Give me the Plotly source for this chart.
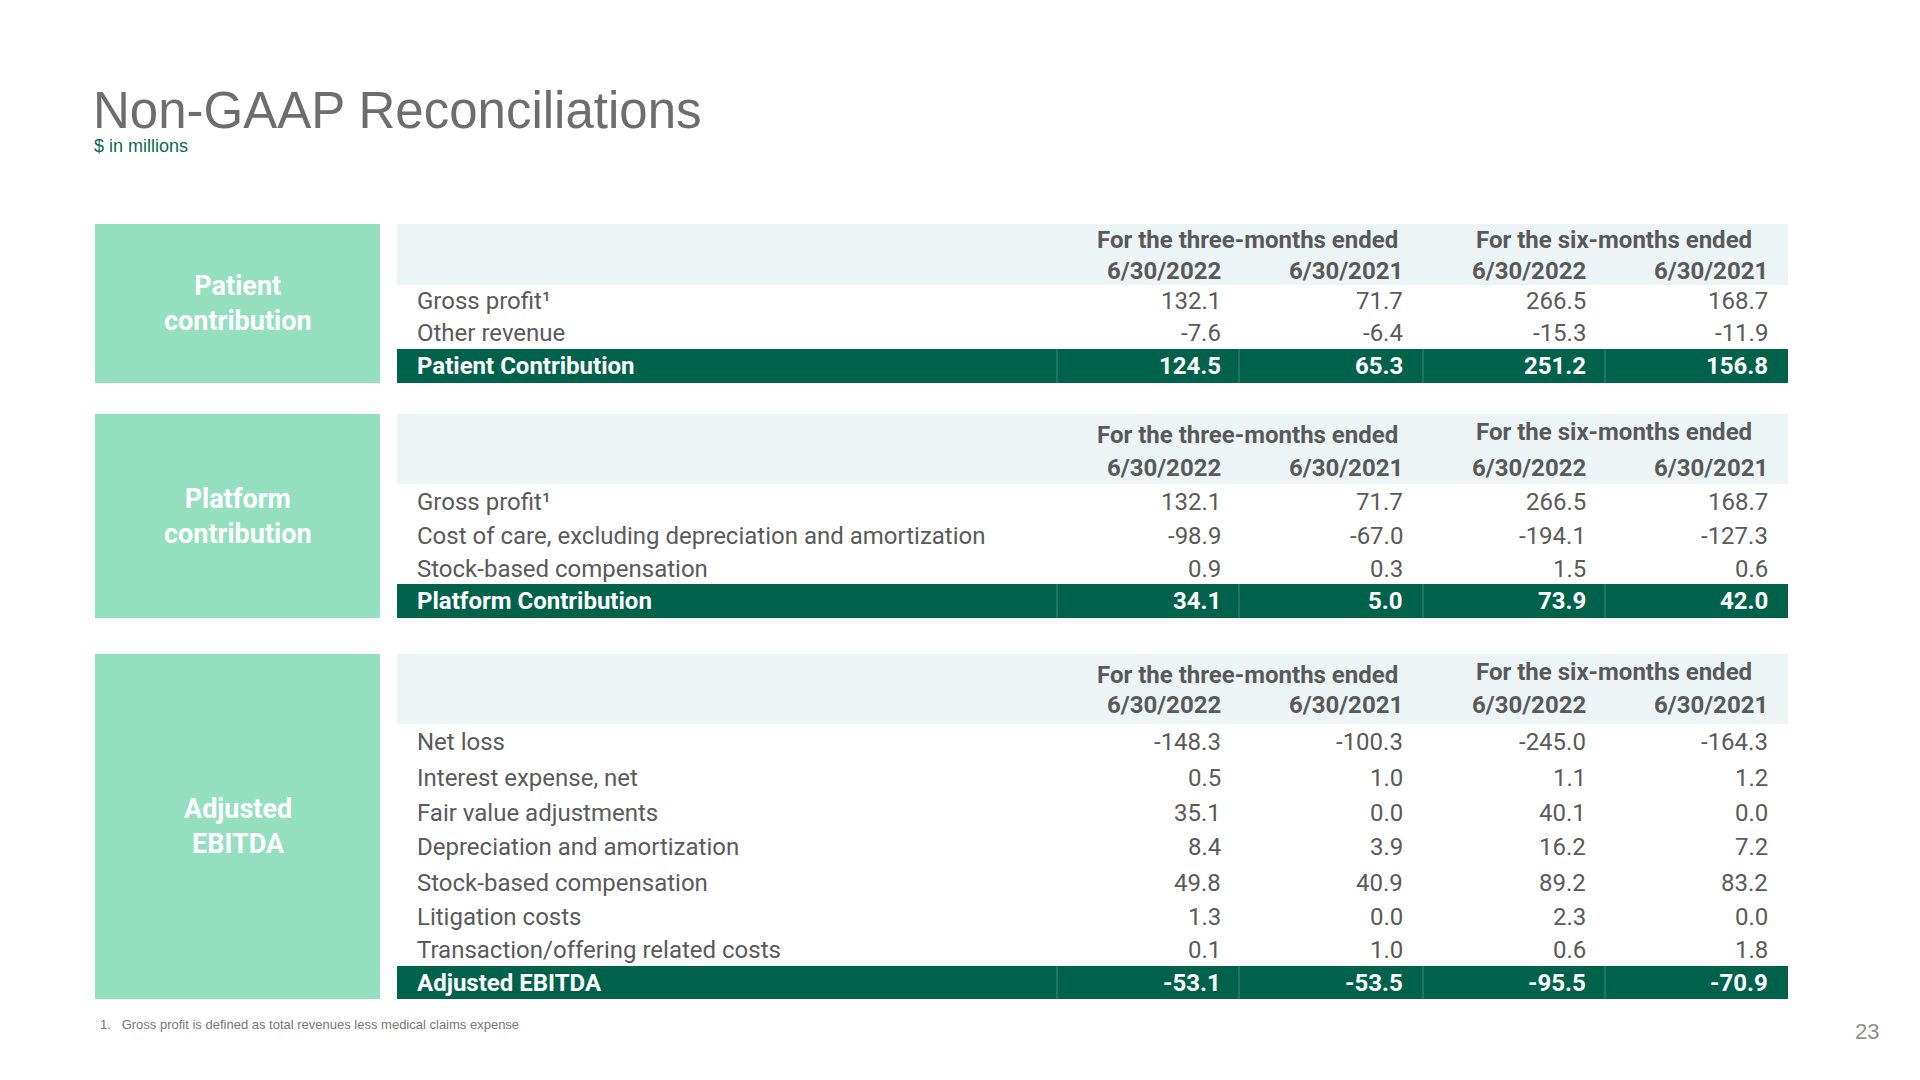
import plotly.graph_objects as go

# ---------------- data ----------------
TITLE = "Non-GAAP Reconciliations"
SUBTITLE = "$ in millions"
FOOTNOTE = "1.   Gross profit is defined as total revenues less medical claims expense"
PAGE_NUMBER = "23"

section_names = ["Patient<br>contribution", "Platform<br>contribution", "Adjusted<br>EBITDA"]
periods = ["For the three-months ended", "For the six-months ended"]
dates = ["6/30/2022", "6/30/2021", "6/30/2022", "6/30/2021"]

patient_labels = ["Gross profit¹", "Other revenue"]
patient_values = [
    [132.1, 71.7, 266.5, 168.7],
    [-7.6, -6.4, -15.3, -11.9],
]
patient_total_label = "Patient Contribution"
patient_total = [124.5, 65.3, 251.2, 156.8]

platform_labels = ["Gross profit¹",
                   "Cost of care, excluding depreciation and amortization",
                   "Stock-based compensation"]
platform_values = [
    [132.1, 71.7, 266.5, 168.7],
    [-98.9, -67.0, -194.1, -127.3],
    [0.9, 0.3, 1.5, 0.6],
]
platform_total_label = "Platform Contribution"
platform_total = [34.1, 5.0, 73.9, 42.0]

ebitda_labels = ["Net loss", "Interest expense, net", "Fair value adjustments",
                 "Depreciation and amortization", "Stock-based compensation",
                 "Litigation costs", "Transaction/offering related costs"]
ebitda_values = [
    [-148.3, -100.3, -245.0, -164.3],
    [0.5, 1.0, 1.1, 1.2],
    [35.1, 0.0, 40.1, 0.0],
    [8.4, 3.9, 16.2, 7.2],
    [49.8, 40.9, 89.2, 83.2],
    [1.3, 0.0, 2.3, 0.0],
    [0.1, 1.0, 0.6, 1.8],
]
ebitda_total_label = "Adjusted EBITDA"
ebitda_total = [-53.1, -53.5, -95.5, -70.9]

# ---------------- layout / style ----------------
W, H = 1920, 1080
LIGHT_GREEN = "#93dfbf"
DARK_GREEN = "#01624c"
HEAD_BG = "#edf4f6"
TEXT_GRAY = "#5a5a5a"
HEAD_GRAY = "#595959"
DIVIDER = "#3d8a74"
FONT = "Roboto"
BODY_SIZE = 24
HEAD_SIZE = 24

BOX_X = (95, 380)
TABLE_X = (397, 1788)
LABEL_X = 415
COL_RIGHT = [1223, 1405, 1588, 1770]
COL_DIV = [1057, 1239, 1423, 1605]
PERIOD_X = [1247, 1614]

geom = [
    dict(top=224, head_bot=285, per_y=(240, 240), date_y=271,
         row_y=[301, 333], tot=(349, 383)),
    dict(top=414, head_bot=484, per_y=(435, 432), date_y=468,
         row_y=[502, 536, 569], tot=(584, 618)),
    dict(top=654, head_bot=724, per_y=(675, 672), date_y=705,
         row_y=[742, 778, 813, 847, 883, 917, 950], tot=(966, 999)),
]

sections = [
    (patient_labels, patient_values, patient_total_label, patient_total),
    (platform_labels, platform_values, platform_total_label, platform_total),
    (ebitda_labels, ebitda_values, ebitda_total_label, ebitda_total),
]

fig = go.Figure()
shapes = []
annotations = []


def ann(x, y, text, size, color, xanchor="left", bold=False, family=FONT, yanchor="middle"):
    if bold:
        text = "<b>" + text + "</b>"
    annotations.append(dict(x=x, y=y, xref="x", yref="y", text=text, showarrow=False,
                            xanchor=xanchor, yanchor=yanchor,
                            font=dict(family=family, size=size, color=color)))


def fmt(v):
    return f"{v:.1f}"


for name, g, (labels, values, tlabel, tvals) in zip(section_names, geom, sections):
    top, tb0, tb1 = g["top"], g["tot"][0], g["tot"][1]
    # left category box
    shapes.append(dict(type="rect", xref="x", yref="y", x0=BOX_X[0], x1=BOX_X[1],
                       y0=top, y1=tb1, fillcolor=LIGHT_GREEN, line=dict(width=0), layer="below"))
    ann((BOX_X[0] + BOX_X[1]) / 2, (top + tb1) / 2, name, 27, "white",
        xanchor="center", bold=True)
    # header band
    shapes.append(dict(type="rect", xref="x", yref="y", x0=TABLE_X[0], x1=TABLE_X[1],
                       y0=top, y1=g["head_bot"], fillcolor=HEAD_BG, line=dict(width=0),
                       layer="below"))
    for px, py, ptxt in zip(PERIOD_X, g["per_y"], periods):
        ann(px, py, ptxt, HEAD_SIZE, HEAD_GRAY, xanchor="center", bold=True)
    for cx, d in zip(COL_RIGHT, dates):
        ann(cx, g["date_y"], d, HEAD_SIZE, HEAD_GRAY, xanchor="right", bold=True)
    # body rows
    for ry, lab, vals in zip(g["row_y"], labels, values):
        ann(LABEL_X, ry, lab, BODY_SIZE, TEXT_GRAY)
        for cx, v in zip(COL_RIGHT, vals):
            ann(cx, ry, fmt(v), BODY_SIZE, TEXT_GRAY, xanchor="right")
    # total band
    shapes.append(dict(type="rect", xref="x", yref="y", x0=TABLE_X[0], x1=TABLE_X[1],
                       y0=tb0, y1=tb1, fillcolor=DARK_GREEN, line=dict(width=0), layer="below"))
    for dx in COL_DIV:
        shapes.append(dict(type="line", xref="x", yref="y", x0=dx, x1=dx, y0=tb0, y1=tb1,
                           line=dict(color=DIVIDER, width=1), layer="below"))
    ty = (tb0 + tb1) / 2
    ann(LABEL_X, ty, tlabel, BODY_SIZE, "white", bold=True)
    for cx, v in zip(COL_RIGHT, tvals):
        ann(cx, ty, fmt(v), BODY_SIZE, "white", xanchor="right", bold=True)

# title, subtitle, footnote, page number
ann(91, 110, TITLE, 51, "#6d6d6d", family="Liberation Sans")
ann(92, 146, SUBTITLE, 18, "#0b6a50", family="Liberation Sans")
ann(98, 1024, FOOTNOTE, 13, "#777777", family="Liberation Sans")
ann(1867, 1031, PAGE_NUMBER, 22, "#8f8f8f", xanchor="center", family="Liberation Sans")

fig.update_layout(
    width=W, height=H,
    margin=dict(l=0, r=0, t=0, b=0),
    paper_bgcolor="white", plot_bgcolor="white",
    xaxis=dict(range=[0, W], visible=False, fixedrange=True),
    yaxis=dict(range=[H, 0], visible=False, fixedrange=True),
    shapes=shapes, annotations=annotations, showlegend=False,
)

fig.write_html("out.html", config={"displayModeBar": False},
               post_script="document.body.style.margin='0';document.body.style.overflow='hidden';")
